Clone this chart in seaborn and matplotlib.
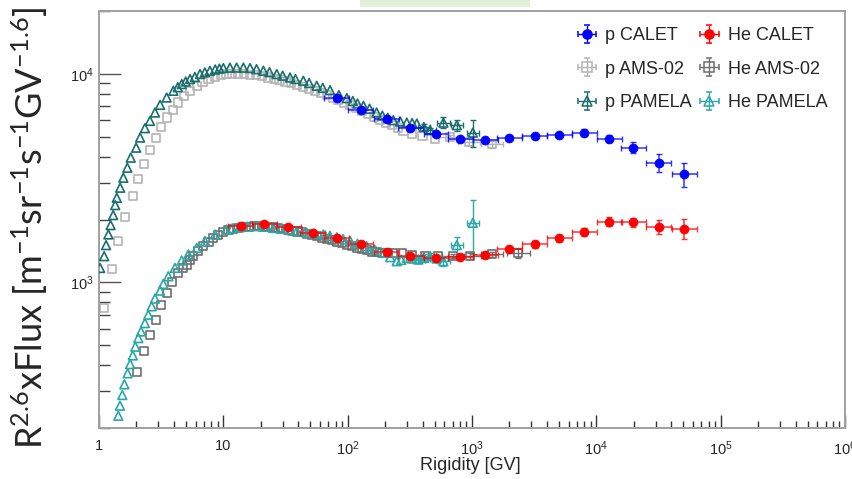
import numpy as np
import matplotlib
matplotlib.use("Agg")
import matplotlib.pyplot as plt
import seaborn as sns
from matplotlib.ticker import FuncFormatter, LogLocator, NullFormatter, FixedLocator
from matplotlib.patches import Rectangle

# ---------------- data ----------------
calet_R = [81.7, 127, 206, 319, 514, 802, 1275, 2000, 3200, 5050, 7980, 12700, 19900, 31800, 50800]
p_calet_F = [7640, 6710, 6055, 5483, 5130, 4887, 4800, 4940, 5017, 5073, 5222, 4887, 4424, 3748, 3296]
p_calet_err = [1.5, 1.5, 1.5, 1.5, 1.5, 1.5, 1.8, 2, 2.5, 3, 3.5, 4, 6, 10, 13]

he_calet_R = [13.8, 21.3, 33.2, 52.4, 81.7, 127, 206, 319, 514, 802, 1275, 2000, 3200, 5050,
              7980, 12700, 19900, 31800, 50800]
he_calet_F = [1858, 1907, 1838, 1726, 1629, 1518, 1393, 1334, 1309, 1324, 1349, 1437, 1518, 1622,
              1745, 1950, 1943, 1845, 1805]
he_calet_err = [2, 2, 2, 2, 2, 2, 2, 2, 2.5, 2.5, 3, 3, 3.5, 4, 4, 5, 5, 8, 11]

p_ams_R = [1.10, 1.27, 1.43, 1.62, 1.87, 2.05, 2.31, 2.57, 2.87, 3.15, 3.54, 3.92, 4.30, 4.86, 5.40,
           6.1, 6.8, 7.6, 8.5, 9.5, 10.6, 11.8, 13.2, 14.7, 16.4, 18.3, 20.4, 22.8, 25.4, 28.3, 31.6,
           35.2, 39.3, 43.8, 48.9, 54.5, 60.8, 67.8, 75.6, 84.3, 94, 105, 117, 131, 146, 163, 182,
           203, 226, 252, 281, 330, 400, 500, 667, 950, 1443]
p_ams_F = [752, 1160, 1575, 2050, 2590, 3120, 3700, 4300, 4910, 5560, 6170, 6710, 7280, 7840, 8290,
           8750, 9100, 9400, 9650, 9830, 9950, 10000, 10000, 9960, 9900, 9820, 9720, 9600, 9470, 9330,
           9180, 9020, 8850, 8670, 8480, 8280, 8080, 7880, 7680, 7470, 7270, 7060, 6850, 6640, 6430,
           6230, 6030, 5840, 5660, 5490, 5330, 5170, 5020, 4890, 4980, 4700, 4590]

he_ams_R = [2.03, 2.31, 2.57, 2.86, 3.15, 3.50, 3.89, 4.35, 4.70, 5.08, 5.40, 5.74, 6.3, 6.9, 7.6,
            8.31, 9.1, 10.0, 11.0, 12.0, 13.2, 14.5, 16.0, 17.5, 19.2, 21, 23, 25, 27.5, 30, 33, 36,
            39.5, 43, 47.5, 52, 57, 62, 68, 75, 82, 90, 99, 108, 119, 130, 143, 157, 173, 190, 210,
            230, 272, 328, 420, 530, 700, 966, 1443, 2362]
he_ams_F = [373, 466, 561, 662, 775, 889, 1000, 1109, 1165, 1216, 1275, 1334, 1410, 1489, 1560,
            1633, 1690, 1746, 1775, 1800, 1820, 1840, 1850, 1855, 1855, 1850, 1842, 1830, 1815, 1800,
            1785, 1770, 1752, 1735, 1712, 1690, 1665, 1640, 1615, 1590, 1565, 1540, 1515, 1490, 1467,
            1445, 1425, 1405, 1390, 1375, 1380, 1383, 1383, 1349, 1335, 1330, 1335, 1334, 1360, 1383]

p_pam_R = [1.02, 1.10, 1.14, 1.19, 1.24, 1.30, 1.35, 1.39, 1.48, 1.57, 1.69, 1.80, 1.99, 2.14, 2.34,
           2.57, 2.82, 3.10, 3.50, 3.96, 4.30, 4.63, 4.98, 5.40, 5.9, 6.5, 7.1, 7.8, 8.6, 9.3, 10.0,
           11.3, 12.8, 14.5, 16.4, 18.5, 21, 23.5, 26.9, 30, 34.4, 38, 44, 49, 56.4, 63, 72.2, 85,
           98.4, 110, 120, 134, 150, 171, 190, 210, 233, 265, 299, 330, 360, 410, 460, 589, 755, 1015]
p_pam_F = [1171, 1334, 1507, 1696, 1880, 2100, 2345, 2542, 2841, 3172, 3543, 3959, 4422, 4943, 5483,
           5943, 6516, 7096, 7692, 8286, 8620, 8924, 9180, 9430, 9650, 9967, 10150, 10338, 10480,
           10580, 10652, 10700, 10704, 10700, 10652, 10520, 10338, 10180, 9967, 9790, 9600, 9440,
           9255, 9030, 8757, 8560, 8348, 7900, 7640, 7400, 7200, 7018, 6800, 6516, 6300, 6150, 5990,
           5900, 5830, 5800, 5768, 5550, 5363, 5830, 5668, 5222]

he_pam_R = [1.43, 1.475, 1.54, 1.60, 1.70, 1.78, 1.87, 1.96, 2.07, 2.18, 2.34, 2.49, 2.65, 2.82, 3.10,
            3.29, 3.61, 4.08, 4.62, 5.23, 6.11, 7.12, 8.57, 10.6, 11.8, 13.6, 15.5, 18.6, 21.5, 25.3,
            29, 34.4, 39, 46.9, 54, 63.8, 72, 81.7, 92, 105, 120, 142, 165, 194, 220, 248, 270, 299,
            330, 370, 410, 460, 520, 589, 755, 1015]
he_pam_F = [229, 256, 288, 324, 366, 405, 446, 491, 540, 581, 637, 699, 767, 835, 912, 982, 1069,
            1172, 1272, 1360, 1462, 1575, 1695, 1791, 1815, 1837, 1850, 1858, 1845, 1822, 1805, 1791,
            1760, 1725, 1710, 1695, 1670, 1644, 1610, 1574, 1530, 1489, 1430, 1383, 1320, 1262, 1280,
            1309, 1300, 1285, 1310, 1334, 1300, 1262, 1507, 1928]

x_ticks = [1, 10, 100, 1e3, 1e4, 1e5, 1e6]
y_ticks = [1e3, 1e4]
legend_labels = ["p CALET", "p AMS-02", "p PAMELA", "He CALET", "He AMS-02", "He PAMELA"]

# ---------------- style ----------------
sns.set_theme(style="white")
plt.rcParams['font.family'] = ['Liberation Sans', 'DejaVu Sans']
plt.rcParams['mathtext.fontset'] = 'custom'
plt.rcParams['mathtext.rm'] = 'Liberation Sans'
plt.rcParams['mathtext.it'] = 'Liberation Sans:italic'
plt.rcParams['mathtext.bf'] = 'Liberation Sans:bold'

C_BLUE = '#0000ff'
C_RED = '#ff0000'
C_PAMS = '#b4b4b4'
C_HAMS = '#6e6e6e'
C_PPAM = '#1b6e6e'
C_HPAM = '#2aa7a7'

fig = plt.figure(figsize=(8.53, 4.79), dpi=100)
ax = fig.add_axes([99 / 853, 1 - 428 / 479, (845 - 99) / 853, (428 - 11) / 479])
ax.set_xscale('log')
ax.set_yscale('log')


def rel(F, pct):
    F = np.asarray(F, float)
    return F * np.asarray(pct, float) / 100.0


def xbin(R, dlog):
    R = np.asarray(R, float)
    return [R * (1 - 10 ** (-dlog)), R * (10 ** dlog - 1)]


# AMS-02 (open squares)
ax.errorbar(p_ams_R[-3:], p_ams_F[-3:], xerr=xbin(p_ams_R[-3:], 0.09),
            yerr=rel(p_ams_F[-3:], [2, 3, 4]), fmt='none', ecolor=C_PAMS, elinewidth=1, capsize=2, zorder=2)
sns.scatterplot(x=p_ams_R, y=p_ams_F, marker='s', s=34, color=C_PAMS, facecolor='none',
                edgecolor=C_PAMS, linewidth=1.2, ax=ax, zorder=2)
ax.errorbar(he_ams_R[-4:], he_ams_F[-4:], xerr=xbin(he_ams_R[-4:], 0.09),
            yerr=rel(he_ams_F[-4:], [2, 3, 3, 5]), fmt='none', ecolor=C_HAMS, elinewidth=1, capsize=2, zorder=2)
sns.scatterplot(x=he_ams_R, y=he_ams_F, marker='s', s=34, color=C_HAMS, facecolor='none',
                edgecolor=C_HAMS, linewidth=1.2, ax=ax, zorder=2)

# PAMELA (open triangles)
ax.errorbar(p_pam_R[-5:], p_pam_F[-5:], xerr=xbin(p_pam_R[-5:], 0.05),
            yerr=rel(p_pam_F[-5:], [3, 3, 6, 6, 15]), fmt='none', ecolor=C_PPAM, elinewidth=1, capsize=2, zorder=3)
sns.scatterplot(x=p_pam_R, y=p_pam_F, marker='^', s=40, color=C_PPAM, facecolor='none',
                edgecolor=C_PPAM, linewidth=1.2, ax=ax, zorder=3)
ax.errorbar(he_pam_R[-8:], he_pam_F[-8:], xerr=xbin(he_pam_R[-8:], 0.05),
            yerr=rel(he_pam_F[-8:], [4, 4, 4, 4, 4, 5, 9, 29]), fmt='none', ecolor=C_HPAM, elinewidth=1,
            capsize=2, zorder=3)
sns.scatterplot(x=he_pam_R, y=he_pam_F, marker='^', s=40, color=C_HPAM, facecolor='none',
                edgecolor=C_HPAM, linewidth=1.2, ax=ax, zorder=3)

# CALET (filled circles)
ax.errorbar(calet_R, p_calet_F, xerr=xbin(calet_R, 0.1), yerr=rel(p_calet_F, p_calet_err),
            fmt='none', ecolor=C_BLUE, elinewidth=1.1, capsize=2, alpha=0.8, zorder=4)
sns.scatterplot(x=calet_R, y=p_calet_F, marker='o', s=42, color=C_BLUE, edgecolor=C_BLUE,
                linewidth=0.5, ax=ax, zorder=5)
ax.errorbar(he_calet_R, he_calet_F, xerr=xbin(he_calet_R, 0.1), yerr=rel(he_calet_F, he_calet_err),
            fmt='none', ecolor=C_RED, elinewidth=1.1, capsize=2, alpha=0.8, zorder=4)
sns.scatterplot(x=he_calet_R, y=he_calet_F, marker='o', s=42, color=C_RED, edgecolor=C_RED,
                linewidth=0.5, ax=ax, zorder=5)

ax.set_xlim(1, 1e6)
ax.set_ylim(200, 20000)

# ticks
ax.xaxis.set_major_locator(FixedLocator(x_ticks))
ax.xaxis.set_minor_locator(LogLocator(base=10, subs=np.arange(2, 10), numticks=100))
ax.yaxis.set_major_locator(FixedLocator(y_ticks))
ax.yaxis.set_minor_locator(LogLocator(base=10, subs=np.arange(2, 10), numticks=100))


def xfmt(v, pos):
    if v == 1:
        return '1'
    if v == 10:
        return '10'
    return r'$\mathregular{10^{%d}}$' % int(round(np.log10(v)))


ax.xaxis.set_major_formatter(FuncFormatter(xfmt))
ax.xaxis.set_minor_formatter(NullFormatter())
ax.yaxis.set_major_formatter(FuncFormatter(lambda v, p: r'$\mathregular{10^{%d}}$' % int(round(np.log10(v)))))
ax.yaxis.set_minor_formatter(NullFormatter())

ax.tick_params(axis='x', which='major', direction='in', length=9.5, width=1, color='#333333',
               labelsize=10.5, pad=8, bottom=True, top=False)
ax.tick_params(axis='x', which='minor', direction='in', length=5, width=1, color='#333333',
               bottom=True, top=False)
ax.tick_params(axis='y', which='major', direction='in', length=16, width=1, color='#555555',
               labelsize=10.5, pad=4, left=True, right=False)
ax.tick_params(axis='y', which='minor', direction='in', length=8, width=1, color='#444444',
               left=True, right=False)
for sp in ax.spines.values():
    sp.set_color('#a0a0a0')
    sp.set_linewidth(1.4)
ax.set_xlabel('')
ax.set_ylabel('')

# legend
handles = []
for col, mk, filled in [(C_BLUE, 'o', True), (C_PAMS, 's', False), (C_PPAM, '^', False),
                        (C_RED, 'o', True), (C_HAMS, 's', False), (C_HPAM, '^', False)]:
    h = ax.errorbar([np.nan], [np.nan], xerr=[1], yerr=[1], fmt=mk, color=col, ecolor=col,
                    mfc=col if filled else 'none', mec=col, ms=6.5, mew=1.1, elinewidth=1, capsize=2.5)
    handles.append(h)
leg = ax.legend(handles, legend_labels, ncol=2, frameon=False, fontsize=13,
                loc='upper left', bbox_to_anchor=(566 / 853, 1 - 18 / 479),
                bbox_transform=fig.transFigure, borderpad=0, handlelength=1.3, handletextpad=0.35,
                columnspacing=0.35, labelspacing=0.92)

# axis titles
fig.text(470 / 853, 1 - 466 / 479, 'Rigidity [GV]', ha='center', va='center', fontsize=13)
fig.text(30 / 853, 1 - 228 / 479,
         r'R$\mathregular{^{2.6}}$xFlux [m$\mathregular{^{-1}}$sr$\mathregular{^{-1}}$'
         r's$\mathregular{^{-1}}$GV$\mathregular{^{-1.6}}$]',
         rotation=90, ha='center', va='center', fontsize=26, family=['Lato', 'DejaVu Sans'])

# light green tab at the top
fig.patches.append(Rectangle((360 / 853, 1 - 7 / 479), 170 / 853, 7 / 479, transform=fig.transFigure,
                             facecolor='#e2efda', edgecolor='none'))

fig.savefig('out.png', dpi=100)
